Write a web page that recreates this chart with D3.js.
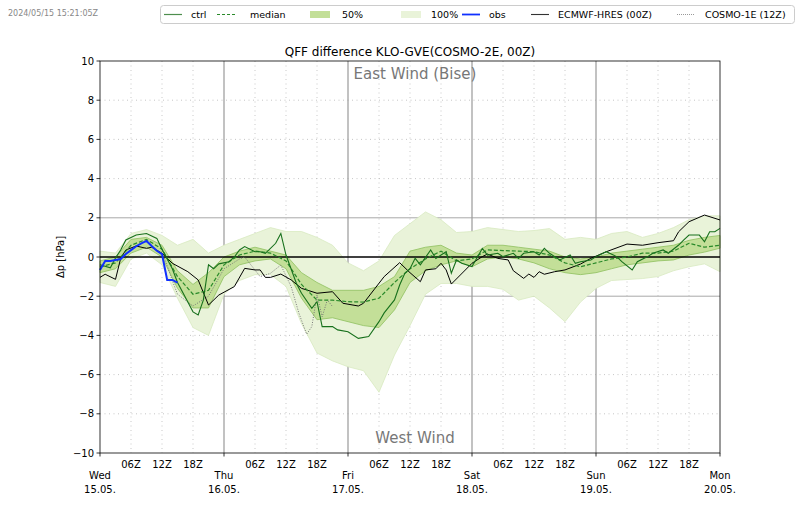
<!DOCTYPE html>
<html>
<head>
<meta charset="utf-8">
<script src="https://cdn.jsdelivr.net/npm/d3@7"></script>
<style>
  body { margin: 0; background: #fff; }
  text { font-family: "DejaVu Sans", sans-serif; }
</style>
</head>
<body>
<script>
var w = 800;
var h = 509;

// time axis: hours after Wed 15.05. 00Z
var bandHours = d3.range(0, 121, 3);
var dayNames = ["Wed", "Thu", "Fri", "Sat", "Sun", "Mon"];
var dayDates = ["15.05.", "16.05.", "17.05.", "18.05.", "19.05.", "20.05."];
var hourLabels = ["06Z", "12Z", "18Z"];
var yTicks = [-10, -8, -6, -4, -2, 0, 2, 4, 6, 8, 10];

// ensemble statistics every 3 h
var medianVals = [-0.5, -0.3, 0.6, 0.9, 0.4, -1.0, -1.9, -1.7, -0.4, 0.1, 0.3, 0.2, -0.2, -1.4, -2.2,
  -2.2, -2.28, -2.3, -2.1, -1.3, -0.6, -0.1, 0.3, -0.2, -0.1, 0.36, 0.33, 0.3, 0.27, 0.1,
  -0.3, -0.5, -0.3, -0.1, 0.0, 0.2, 0.2, 0.3, 0.7, 0.5, 0.6];
var p75Vals = [-0.2, 0.0, 0.9, 1.0, 0.6, -0.7, -1.4, -0.8, 0.0, 0.3, 0.5, 0.3, 0.1, -0.8, -1.3,
  -1.7, -1.7, -1.7, -1.5, -1.0, 0.3, 0.5, 0.6, 0.2, 0.1, 0.6, 0.6, 0.5, 0.4, 0.3,
  0.0, -0.1, 0.0, 0.2, 0.3, 0.4, 0.5, 0.6, 0.85, 1.0, 1.1];
var p25Vals = [-0.8, -0.6, 0.2, 0.5, 0.0, -1.6, -2.6, -2.6, -1.0, -0.4, -0.2, -0.1, -0.6, -2.1, -3.2,
  -3.1, -3.3, -3.5, -3.6, -2.7, -1.3, -0.7, -0.4, -0.2, -0.5, -0.1, 0.0, -0.1, -0.3, -0.6,
  -0.8, -0.9, -0.8, -0.6, -0.4, -0.3, -0.2, -0.15, 0.1, 0.25, 0.45];
var maxVals = [0.3, 0.2, 1.2, 1.4, 1.1, 0.6, 0.9, 0.2, 0.6, 0.9, 1.2, 1.5, 1.3, 1.3, 1.0,
  0.6, -0.3, -0.7, -0.2, 1.1, 1.7, 2.3, 1.9, 1.25, 1.3, 1.5, 1.4, 1.3, 1.35, 1.45,
  0.9, 1.0, 0.9, 1.2, 1.3, 1.0, 1.2, 1.5, 1.9, 2.1, 2.1];
var minVals = [-1.3, -1.5, -0.1, 0.2, -0.4, -2.1, -3.6, -4.0, -1.9, -1.2, -0.9, -0.9, -1.5, -3.4, -4.9,
  -5.3, -5.6, -5.8, -6.9, -5.0, -3.5, -1.9, -1.35, -1.35, -1.5, -1.5, -1.65, -2.2, -2.0, -2.6,
  -3.3, -2.3, -1.6, -1.2, -1.15, -1.1, -1.0, -0.7, -0.5, -0.35, -0.75];

// control run
var ctrlHours = [0, 2, 3, 4, 5, 7, 9, 11, 12, 14, 15, 17, 18, 19, 20, 21, 22, 23, 25, 26, 27, 28, 30, 31, 32,
  34, 35, 36, 38, 39, 41, 42, 43, 45, 46, 48, 50, 52, 54, 55, 57, 58, 59, 60, 61, 62, 64, 65, 67,
  68, 69, 70, 72, 74, 75, 77, 78, 80, 81, 82, 84, 85, 86, 87, 89, 91, 92, 93, 95, 96, 98, 100,
  101, 103, 104, 106, 107, 109, 110, 112, 113, 114, 116, 117, 118, 119, 120];
var ctrlVals = [-0.4, -0.55, -0.05, 0.36, 0.87, 1.12, 1.2, 0.95, 0.4, -0.6, -1.3, -2.3, -2.8, -2.96, -2.2,
  -0.4, -0.6, -0.35, -0.24, 0.0, 0.36, 0.53, 0.27, 0.27, 0.19, 0.7, 1.2, 0.1, -1.34, -1.85, -2.62,
  -2.28, -3.55, -3.55, -3.72, -3.81, -4.15, -4.06, -3.3, -2.85, -2.19, -1.43, -0.83, -0.6, -0.07,
  -0.4, 0.36, -0.07, 0.27, -0.83, -0.15, -0.32, -0.49, 0.44, 0.1, 0.19, 0.02, 0.19, -0.07, 0.19,
  0.27, 0.1, 0.44, 0.19, -0.15, 0.1, -0.32, -0.24, -0.15, 0.02, 0.27, 0.02, -0.24, -0.66, -0.24,
  0.02, 0.19, 0.36, 0.19, 0.61, 0.87, 1.12, 1.12, 0.78, 1.29, 1.29, 1.46];

// observations (hourly)
var obsHours = [0, 1, 2, 3, 4, 5, 6, 7, 8, 9, 10, 11, 12, 13, 14, 15];
var obsVals = [-0.66, -0.2, -0.2, -0.15, -0.1, 0.15, 0.35, 0.55, 0.7, 0.82, 0.56, 0.32, 0.15, -1.17, -1.17, -1.31];

// ECMWF-HRES 00Z
var ecmwfHours = [0, 1, 3, 4, 5, 7, 9, 10, 12, 14, 17, 19, 21, 23, 26, 28, 30, 31, 32, 33, 35, 37, 39, 40,
  42, 45, 47, 50, 51, 53, 55, 58, 60, 62, 63, 65, 66, 67, 68, 72, 74, 75, 77, 79, 80, 82, 83, 84,
  85, 86, 88, 90, 93, 95, 98, 102, 105, 108, 111, 112, 114, 117, 120];
var ecmwfVals = [-1.04, -0.88, -1.14, -0.07, 0.36, 0.56, 0.44, 0.5, 0.19, -0.32, -0.75, -1.17, -2.45, -1.94,
  -1.51, -0.58, -0.66, -0.66, -1.04, -1.04, -0.87, -1.17, -1.6, -1.68, -1.85, -1.77, -2.36, -2.5,
  -2.36, -1.68, -1.0, -0.29, -0.8, -1.26, -0.66, -0.6, -0.32, -0.66, -1.38, -0.32, 0.02, 0.15,
  -0.07, -0.15, -0.7, -1.09, -0.87, -1.04, -0.75, -0.88, -0.75, -0.66, -0.36, -0.07, 0.27, 0.66,
  0.6, 0.73, 0.83, 1.29, 1.8, 2.14, 1.89];

// COSMO-1E 12Z
var cosmoHours = [12, 14, 15, 18, 21, 24, 27, 28, 31, 33, 35, 37, 38.5, 40, 41, 42, 43, 44, 45];
var cosmoVals = [0.3, -1.2, -1.9, -2.5, -2.0, -0.6, -0.1, 0.0, -1.0, -0.83, -0.41, -1.51, -2.87, -3.94,
  -3.55, -1.94, -3.05, -2.19, -2.53];

var pLeft = 100, pRight = 720, pTop = 61, pBottom = 453;

var x = d3.scaleLinear().domain([0, 120]).range([pLeft, pRight]);
var y = d3.scaleLinear().domain([-10, 10]).range([pBottom, pTop]);

var svg = d3.select("body")
            .append("svg")
            .attr("width", w)
            .attr("height", h);

svg.append("rect").attr("width", w).attr("height", h).attr("fill", "#fff");

// grid
var grid = svg.append("g");
yTicks.filter(function(d){ return d !== 0 && Math.abs(d) !== 10; }).forEach(function(d){
    var solid = Math.abs(d) === 2;
    grid.append("line")
        .attr("x1", pLeft).attr("x2", pRight)
        .attr("y1", y(d)).attr("y2", y(d))
        .attr("stroke", solid ? "#a8a8a8" : "#b8b8b8")
        .attr("stroke-width", solid ? 1 : 0.8)
        .attr("stroke-dasharray", solid ? null : "1,3.5");
});
d3.range(6, 120, 6).forEach(function(t){
    var isDay = t % 24 === 0;
    grid.append("line")
        .attr("x1", x(t)).attr("x2", x(t))
        .attr("y1", pTop).attr("y2", pBottom)
        .attr("stroke", isDay ? "#999" : "#bbb")
        .attr("stroke-width", isDay ? 1.2 : 0.8)
        .attr("stroke-dasharray", isDay ? null : "1,3.5");
});

// bands
var areaFn = function(lo, hi){
    return d3.area()
        .x(function(d, i){ return x(bandHours[i]); })
        .y0(function(d, i){ return y(lo[i]); })
        .y1(function(d, i){ return y(hi[i]); });
};
svg.append("path")
    .attr("d", areaFn(minVals, maxVals)(bandHours))
    .attr("fill", "#e9f3d9")
    .attr("stroke", "#d8eac0")
    .attr("stroke-width", 0.8);
svg.append("path")
    .attr("d", areaFn(p25Vals, p75Vals)(bandHours))
    .attr("fill", "#c3df98")
    .attr("stroke", "#8fc060")
    .attr("stroke-width", 0.8);

var line = function(hs){
    return d3.line()
        .x(function(d, i){ return x(hs[i]); })
        .y(function(d){ return y(d); });
};

// zero line
svg.append("line")
    .attr("x1", pLeft).attr("x2", pRight)
    .attr("y1", y(0)).attr("y2", y(0))
    .attr("stroke", "#000").attr("stroke-width", 1.5);

svg.append("path")
    .attr("d", line(cosmoHours)(cosmoVals))
    .attr("fill", "none").attr("stroke", "#777").attr("stroke-width", 1)
    .attr("stroke-dasharray", "1,1.5");
svg.append("path")
    .attr("d", line(ecmwfHours)(ecmwfVals))
    .attr("fill", "none").attr("stroke", "#000").attr("stroke-width", 1);
svg.append("path")
    .attr("d", line(bandHours)(medianVals))
    .attr("fill", "none").attr("stroke", "#2a8a2a").attr("stroke-width", 1.2)
    .attr("stroke-dasharray", "4,2");
svg.append("path")
    .attr("d", line(ctrlHours)(ctrlVals))
    .attr("fill", "none").attr("stroke", "#17701c").attr("stroke-width", 1.1);
svg.append("path")
    .attr("d", line(obsHours)(obsVals))
    .attr("fill", "none").attr("stroke", "#1030ff").attr("stroke-width", 2);

// wind labels
svg.append("text")
    .attr("x", 415).attr("y", 79)
    .attr("text-anchor", "middle")
    .attr("font-size", 15).attr("fill", "#777")
    .text("East Wind (Bise)");
svg.append("text")
    .attr("x", 415).attr("y", 443)
    .attr("text-anchor", "middle")
    .attr("font-size", 15).attr("fill", "#777")
    .text("West Wind");

// frame
svg.append("rect")
    .attr("x", pLeft).attr("y", pTop)
    .attr("width", pRight - pLeft).attr("height", pBottom - pTop)
    .attr("fill", "none").attr("stroke", "#000").attr("stroke-width", 0.8);

// y axis
var yAxis = svg.append("g");
yTicks.forEach(function(d){
    yAxis.append("line")
        .attr("x1", pLeft - 3.5).attr("x2", pLeft)
        .attr("y1", y(d)).attr("y2", y(d))
        .attr("stroke", "#000").attr("stroke-width", 0.8);
    yAxis.append("text")
        .attr("x", pLeft - 6).attr("y", y(d) + 3.5)
        .attr("text-anchor", "end")
        .attr("font-size", 10)
        .text(d < 0 ? "\u2212" + Math.abs(d) : d);
});
svg.append("text")
    .attr("transform", "translate(64," + y(0) + ") rotate(-90)")
    .attr("text-anchor", "middle")
    .attr("font-size", 10)
    .text("\u0394p [hPa]");

// x axis
var xAxis = svg.append("g");
dayNames.forEach(function(d, i){
    var xx = x(i * 24);
    xAxis.append("line")
        .attr("x1", xx).attr("x2", xx)
        .attr("y1", pBottom).attr("y2", pBottom + 3.5)
        .attr("stroke", "#000").attr("stroke-width", 0.8);
    xAxis.append("text")
        .attr("x", xx).attr("y", 479)
        .attr("text-anchor", "middle").attr("font-size", 10)
        .text(d);
    xAxis.append("text")
        .attr("x", xx).attr("y", 493)
        .attr("text-anchor", "middle").attr("font-size", 10)
        .text(dayDates[i]);
    if (i < dayNames.length - 1) {
        hourLabels.forEach(function(lab, j){
            xAxis.append("text")
                .attr("x", x(i * 24 + (j + 1) * 6)).attr("y", 468)
                .attr("text-anchor", "middle").attr("font-size", 10)
                .text(lab);
        });
    }
});

// title + timestamp
svg.append("text")
    .attr("x", 410).attr("y", 56)
    .attr("text-anchor", "middle")
    .attr("font-size", 12)
    .text("QFF difference KLO-GVE(COSMO-2E, 00Z)");
svg.append("text")
    .attr("x", 8).attr("y", 16)
    .attr("font-size", 8).attr("fill", "#888")
    .text("2024/05/15 15:21:05Z");

// legend
var legend = svg.append("g");
legend.append("rect")
    .attr("x", 160.5).attr("y", 5.5)
    .attr("width", 634).attr("height", 18).attr("rx", 3)
    .attr("fill", "#fff").attr("stroke", "#ccc");
var legendItems = [
    {label: "ctrl", x: 164, tx: 191, kind: "line", color: "#4e8e4e", dash: null, width: 1.2},
    {label: "median", x: 217, tx: 250, kind: "line", color: "#2a8a2a", dash: "3,2", width: 1.2},
    {label: "50%", x: 310, tx: 342, kind: "patch", color: "#c3df98"},
    {label: "100%", x: 401, tx: 431, kind: "patch", color: "#e9f3d9"},
    {label: "obs", x: 462, tx: 489, kind: "line", color: "#1030ff", dash: null, width: 1.8},
    {label: "ECMWF-HRES (00Z)", x: 531, tx: 558, kind: "line", color: "#333", dash: null, width: 1.1},
    {label: "COSMO-1E (12Z)", x: 677, tx: 705, kind: "line", color: "#999", dash: "1,1", width: 1}
];
legendItems.forEach(function(d){
    if (d.kind === "line") {
        legend.append("line")
            .attr("x1", d.x).attr("x2", d.x + 18)
            .attr("y1", 14.5).attr("y2", 14.5)
            .attr("stroke", d.color).attr("stroke-width", d.width)
            .attr("stroke-dasharray", d.dash);
    } else {
        legend.append("rect")
            .attr("x", d.x).attr("y", 11)
            .attr("width", 20).attr("height", 7)
            .attr("fill", d.color);
    }
    legend.append("text")
        .attr("x", d.tx).attr("y", 18)
        .attr("font-size", 9.5)
        .text(d.label);
});
</script>
</body>
</html>
